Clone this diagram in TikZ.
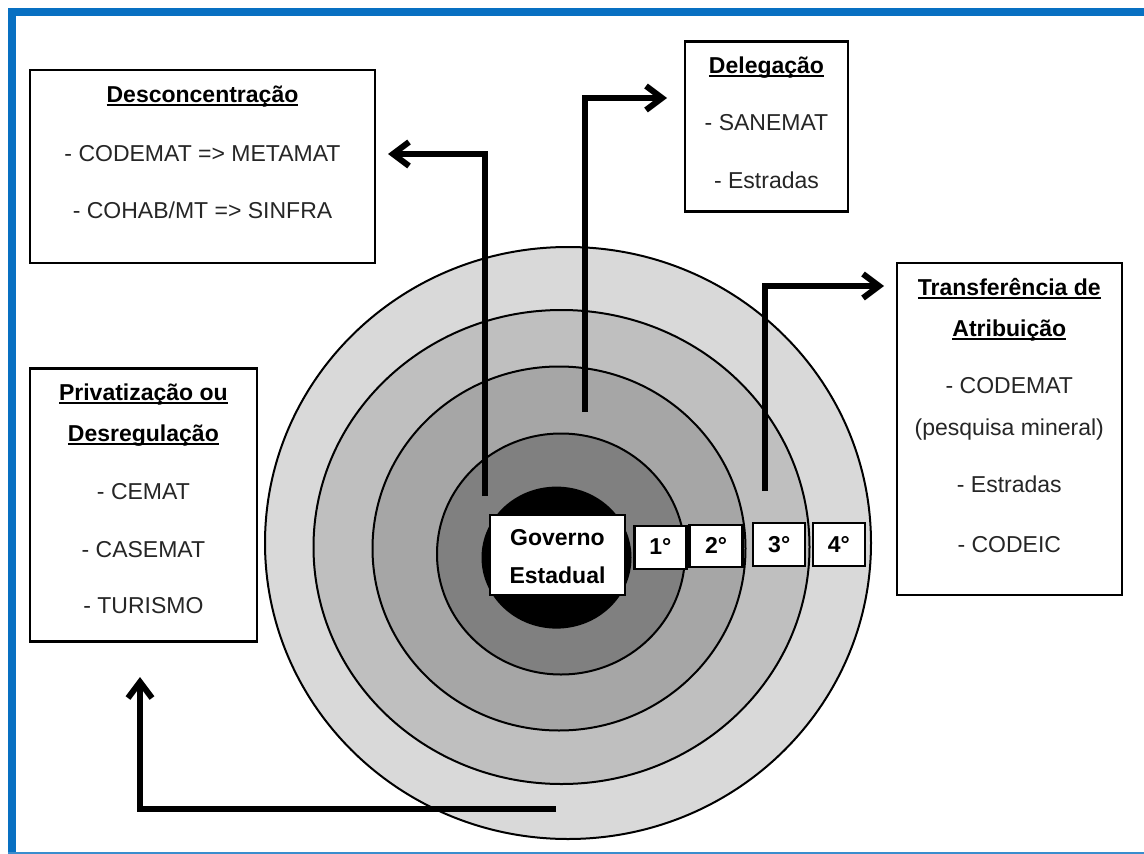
\documentclass[tikz,border=0pt]{standalone}
\usepackage{fontspec}
\setmainfont{Liberation Sans}
\usetikzlibrary{arrows.meta}
\definecolor{frameblue}{RGB}{8,112,194}
\definecolor{gA}{RGB}{217,217,217}
\definecolor{gB}{RGB}{191,191,191}
\definecolor{gC}{RGB}{166,166,166}
\definecolor{gD}{RGB}{128,128,128}
\newcommand\myul[1]{\setbox0\hbox{#1}\rlap{\vrule height -1.5pt depth 3.6pt width \wd0}\box0}
\tikzset{
  ring/.style={draw=black, line width=2pt},
  tbox/.style={draw=black, line width=2.5pt, fill=white, inner sep=0pt, minimum width=#1},
  tbox/.default=10pt,
  lbl/.style={font=\fontsize{23}{27}\selectfont, anchor=base, text=black!85, inner sep=0pt},
  ttl/.style={font=\fontsize{23}{27}\selectfont\bfseries, anchor=base, text=black, inner sep=0pt},
  arr/.style={line width=6pt, draw=black, -{Straight Barb[length=16pt,width=24pt]}},
}
\begin{document}
\begin{tikzpicture}[x=1pt,y=-1pt]
\useasboundingbox (0,0) rectangle (1144,854);
\fill[white] (0,0) rectangle (1144,854);
% frame
\fill[frameblue] (8,8) rectangle (1144,16);
\fill[frameblue] (8,8) rectangle (16,854);
\fill[frameblue!80] (8,852) rectangle (1144,854);
% rings
\draw[ring, fill=gA] (568,543) ellipse [x radius=303pt, y radius=296pt];
\draw[ring, fill=gB] (561.5,547) ellipse [x radius=248pt, y radius=237pt];
\draw[ring, fill=gC] (559,548.5) ellipse [x radius=186.5pt, y radius=182pt];
\draw[ring, fill=gD] (561,554) ellipse [x radius=124pt, y radius=120.5pt];
\fill[black] (556.5,557.6) ellipse [x radius=75pt, y radius=71pt];
% centre boxes
\node[tbox=135pt, minimum height=80pt] (gov) at (557.5,555) {};
\node[ttl] (gov1) at (557.5,545) {Governo};
\node[ttl] (gov2) at (557.5,583) {Estadual};
\node[tbox=52pt, minimum height=43pt] (d1) at (660.3,547.6) {};
\node[tbox=53pt, minimum height=42pt] (d2) at (716,546.2) {};
\node[tbox=52pt, minimum height=43pt] (d3) at (779.2,544.7) {};
\node[tbox=52pt, minimum height=43pt] (d4) at (838.9,544.7) {};
\node[ttl] (l1) at (660.3,554) {1°};
\node[ttl] (l2) at (716,553) {2°};
\node[ttl] (l3) at (779.2,552) {3°};
\node[ttl] (l4) at (838.9,552) {4°};
% text boxes
\node[tbox=345pt, minimum height=193pt] (desc) at (202.5,166.5) {};
\node[ttl] (desc0) at (202.5,102) {\myul{Desconcentração}};
\node[lbl] (desc1) at (202.5,161) {- CODEMAT => METAMAT};
\node[lbl] (desc2) at (202.5,218.5) {- COHAB/MT => SINFRA};

\node[tbox=163pt, minimum height=170pt] (deleg) at (766.5,126.7) {};
\node[ttl] (deleg0) at (766.5,73) {\myul{Delegação}};
\node[lbl] (deleg1) at (766.5,130) {- SANEMAT};
\node[lbl] (deleg2) at (766.5,188) {- Estradas};

\node[tbox=225pt, minimum height=332pt] (transf) at (1009.3,429.2) {};
\node[ttl] (transf0) at (1009.3,295) {\myul{Transferência de}};
\node[ttl] (transf1) at (1009.3,336) {\myul{Atribuição}};
\node[lbl] (transf2) at (1009.3,393) {- CODEMAT};
\node[lbl] (transf3) at (1009.3,435) {(pesquisa mineral)};
\node[lbl] (transf4) at (1009.3,492) {- Estradas};
\node[lbl] (transf5) at (1009.3,552) {- CODEIC};

\node[tbox=227pt, minimum height=273pt] (priv) at (143.4,505) {};
\node[ttl] (priv0) at (143.4,400) {\myul{Privatização ou}};
\node[ttl] (priv1) at (143.4,441) {\myul{Desregulação}};
\node[lbl] (priv2) at (143.4,499) {- CEMAT};
\node[lbl] (priv3) at (143.4,557) {- CASEMAT};
\node[lbl] (priv4) at (143.4,613) {- TURISMO};
% arrows
\coordinate (a1s) at (484.5,496);
\coordinate (a1c) at (484.5,154);
\coordinate (a1e) at (388,154);
\draw[arr] (a1s) -- (a1c) -- (a1e);
\coordinate (a2s) at (585,412);
\coordinate (a2c) at (585,98);
\coordinate (a2e) at (667,98);
\draw[arr] (a2s) -- (a2c) -- (a2e);
\coordinate (a3s) at (765,491);
\coordinate (a3c) at (765,286);
\coordinate (a3e) at (884,286);
\draw[arr] (a3s) -- (a3c) -- (a3e);
\coordinate (a4s) at (556,809);
\coordinate (a4c) at (140,809);
\coordinate (a4e) at (140,677);
\draw[arr] (a4s) -- (a4c) -- (a4e);
\end{tikzpicture}
\end{document}
